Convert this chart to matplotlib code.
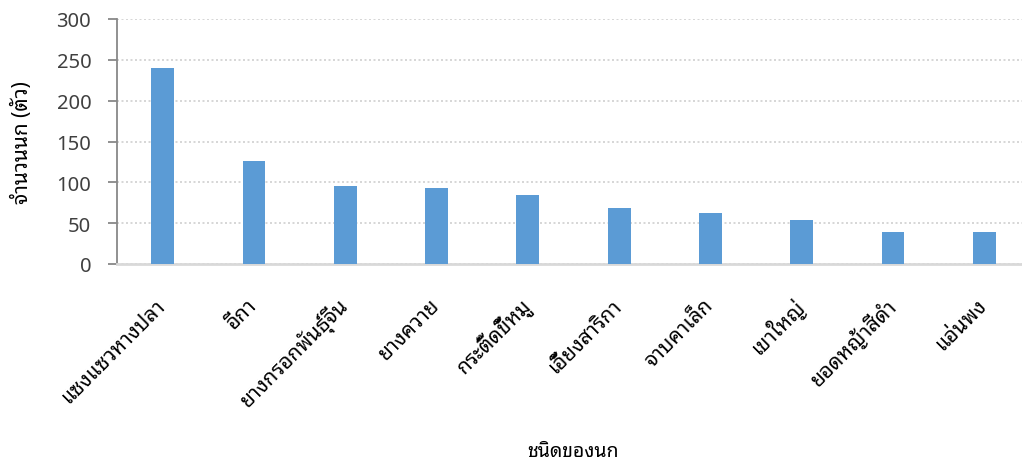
import matplotlib
matplotlib.use('Agg')
import matplotlib.pyplot as plt

plt.rcParams['font.family'] = ['Noto Sans Thai Looped', 'DejaVu Sans']
plt.rcParams['font.weight'] = 'light'

# bird species and counts
birds = ['แซงแซวหางปลา', 'อีกา', 'ยางกรอกพันธุ์จีน', 'ยางควาย', 'กระติ๊ดขี้หมู',
         'เอี้ยงสาริกา', 'จาบคาเล็ก', 'เขาใหญ่', 'ยอดหญ้าสีดำ', 'แอ่นพง']
counts = [240, 126, 95, 93, 85, 69, 62, 54, 39, 39]
yticks = [0, 50, 100, 150, 200, 250, 300]

fig = plt.figure(figsize=(10.22, 4.64), dpi=100)
ax = fig.add_axes([117 / 1022, 1 - 265 / 464, 913 / 1022, 245 / 464])

x = range(len(birds))
ax.bar(x, counts, width=0.25, color='#5B9BD5', zorder=3)
ax.set_xlim(-0.5, len(birds) - 0.5)
ax.set_ylim(0, 300)
ax.set_yticks(yticks)
ax.set_xticks(list(x))
ax.set_xticklabels(birds, rotation=45, ha='right', va='center',
                   rotation_mode='anchor', fontsize=15)
ax.tick_params(axis='x', length=0, pad=27)
ax.tick_params(axis='y', length=6.5, width=1.3, color='#888888',
               labelsize=14.5, pad=12, labelcolor='#404040')

ax.yaxis.grid(True, color='#d0d0d0', linestyle=(0, (1.2, 1.5)), linewidth=1.2, zorder=0)
for s in ('top', 'right'):
    ax.spines[s].set_visible(False)
ax.spines['left'].set_color('#888888')
ax.spines['left'].set_linewidth(1.3)
ax.spines['bottom'].set_color('#d9d9d9')
ax.spines['bottom'].set_linewidth(2)

ax.set_ylabel('จำนวนนก (ตัว)', fontsize=15)
ax.yaxis.set_label_coords(-84 / 913, 0.5)
fig.text(573 / 1022, 1 - 452 / 464, 'ชนิดของนก', fontsize=14, ha='center', va='center')

fig.savefig('out.png')
